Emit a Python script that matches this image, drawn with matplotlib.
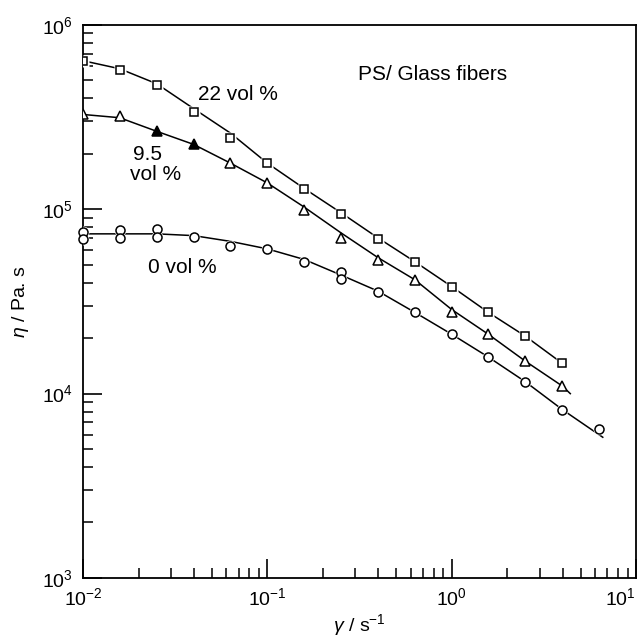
import matplotlib.pyplot as plt
import numpy as np

plt.rcParams['font.family'] = ['Liberation Sans', 'DejaVu Sans']
plt.rcParams['mathtext.fontset'] = 'custom'
plt.rcParams['mathtext.rm'] = 'Liberation Sans'
plt.rcParams['mathtext.it'] = 'Liberation Sans:italic'

# shear rates (s^-1), 5 points per decade
rates = [0.01, 0.0158, 0.0251, 0.0398, 0.0631, 0.1, 0.158, 0.251,
         0.398, 0.631, 1.0, 1.58, 2.51, 3.98]

# 22 vol % (squares)
eta_22 = [6.4e5, 5.72e5, 4.74e5, 3.39e5, 2.45e5, 1.78e5, 1.29e5, 9.45e4,
          6.92e4, 5.2e4, 3.81e4, 2.76e4, 2.05e4, 1.46e4]
# 9.5 vol % (triangles), some drawn filled
eta_95 = [3.27e5, 3.19e5, 2.65e5, 2.25e5, 1.78e5, 1.39e5, 9.9e4, 7.0e4,
          5.32e4, 4.15e4, 2.79e4, 2.1e4, 1.5e4, 1.1e4]
filled_95 = [False, False, True, True, False, False, False, False,
             False, False, False, False, False, False]
# 0 vol % (circles), repeated runs at some rates
rates_0 = [0.01, 0.01, 0.0158, 0.0158, 0.0251, 0.0251, 0.0398, 0.0631, 0.1,
           0.158, 0.251, 0.251, 0.398, 0.631, 1.0, 1.58, 2.51, 3.98, 6.31]
eta_0 = [7.54e4, 6.92e4, 7.74e4, 7.0e4, 7.83e4, 7.09e4, 7.09e4, 6.34e4, 6.11e4,
         5.2e4, 4.59e4, 4.21e4, 3.58e4, 2.76e4, 2.1e4, 1.58e4, 1.16e4, 8.17e3, 6.44e3]

# fitted curves
fit_x_22 = [0.01, 0.0158, 0.0251, 0.0398, 0.0631, 0.1, 0.158, 0.251,
            0.398, 0.631, 1.0, 1.58, 2.51, 3.98]
fit_y_22 = [6.4e5, 5.79e5, 4.8e5, 3.52e5, 2.59e5, 1.78e5, 1.3e5, 9.58e4,
            7.0e4, 5.2e4, 3.81e4, 2.76e4, 2.05e4, 1.46e4]
fit_x_95 = [0.01, 0.0158, 0.0251, 0.0398, 0.0631, 0.1, 0.158, 0.251,
            0.398, 0.631, 1.0, 1.58, 2.51, 3.98, 4.4]
fit_y_95 = [3.27e5, 3.14e5, 2.65e5, 2.25e5, 1.78e5, 1.39e5, 1.03e5, 7.45e4,
            5.47e4, 4.15e4, 2.86e4, 2.1e4, 1.5e4, 1.1e4, 1.0e4]
fit_x_0 = [0.01, 0.0158, 0.0251, 0.0398, 0.0631, 0.1, 0.158, 0.251,
           0.398, 0.631, 1.0, 1.58, 2.51, 3.98, 6.6]
fit_y_0 = [7.36e4, 7.36e4, 7.36e4, 7.2e4, 6.7e4, 6.1e4, 5.35e4, 4.4e4,
           3.6e4, 2.76e4, 2.1e4, 1.58e4, 1.16e4, 8.2e3, 5.8e3]

x_ticks = [1e-2, 1e-1, 1e0, 1e1]

fig = plt.figure(figsize=(6.42, 6.39), dpi=100)
ax = fig.add_axes([0.1293, 0.0955, 0.8614, 0.8654])
ax.set_xscale('log')
ax.set_yscale('log')

lw = 1.1
ax.plot(fit_x_22, fit_y_22, color='black', lw=lw, zorder=2)
ax.plot(fit_x_95, fit_y_95, color='black', lw=lw, zorder=2)
ax.plot(fit_x_0, fit_y_0, color='black', lw=lw, zorder=2)

# white halo behind the open markers
ax.plot(rates, eta_22, ls='none', marker='s', ms=8, mfc='white', mec='none', zorder=3)
ax.plot(rates_0, eta_0, ls='none', marker='o', ms=8.5, mfc='white', mec='none', zorder=3)

ax.plot(rates, eta_22, ls='none', marker='s', ms=5.2, mfc='white', mec='black',
        mew=1.1, zorder=4)
r95 = np.array(rates)
e95 = np.array(eta_95)
f95 = np.array(filled_95)
ax.plot(r95[~f95], e95[~f95], ls='none', marker='^', ms=6.5, mfc='white', mec='black',
        mew=1.1, zorder=4)
ax.plot(r95[f95], e95[f95], ls='none', marker='^', ms=6.5, mfc='black', mec='black',
        mew=1.1, zorder=4)
ax.plot(rates_0, eta_0, ls='none', marker='o', ms=6.5, mfc='white', mec='black',
        mew=1.1, zorder=4, clip_on=False)

ax.set_xlim(1e-2, 1e1)
ax.set_ylim(1e3, 1e6)
ax.set_xticks(x_ticks)

ax.text(0.0693, 3.92e5, '22 vol %', fontsize=15, ha='center', va='baseline')
ax.text(0.0187, 1.85e5, '9.5', fontsize=15, ha='left', va='baseline')
ax.text(0.018, 1.445e5, 'vol %', fontsize=15, ha='left', va='baseline')
ax.text(0.0344, 4.53e4, '0 vol %', fontsize=15, ha='center', va='baseline')
ax.text(0.783, 5.03e5, 'PS/ Glass fibers', fontsize=15, ha='center', va='baseline')

ax.set_xlabel(r'$\gamma$ / s$^{-1}$', fontsize=14, labelpad=2)
ax.set_ylabel(r'$\eta$ / Pa. s', fontsize=14, labelpad=8)

ax.tick_params(which='both', direction='in', top=False, right=False)
ax.tick_params(which='major', length=14, width=1.2, labelsize=14, pad=7)
ax.tick_params(which='minor', length=7.5, width=1.1)
for s in ax.spines.values():
    s.set_linewidth(1.3)

# keep the last x tick label inside the figure
ax.xaxis.get_major_ticks()[-1].label1.set_horizontalalignment('right')

fig.savefig('out.png', dpi=100)
